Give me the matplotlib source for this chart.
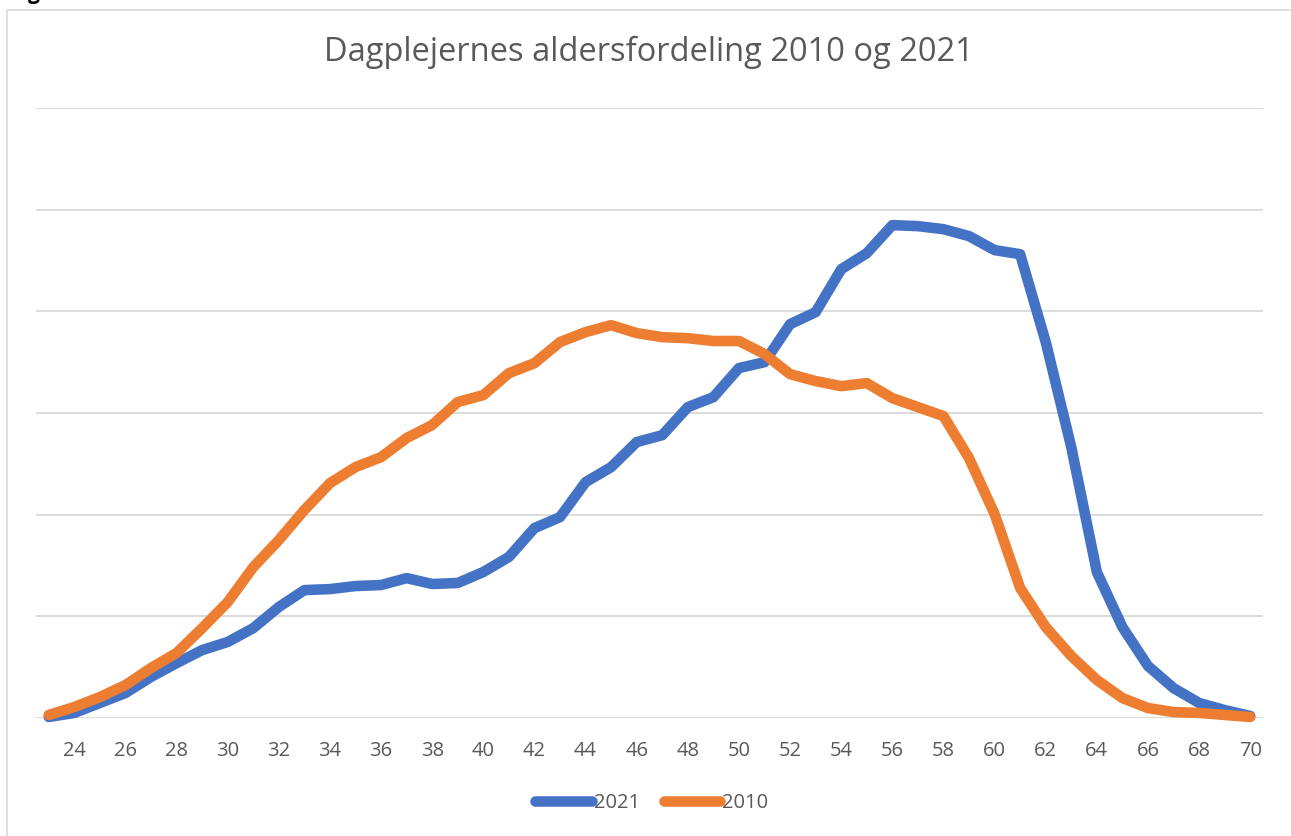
import matplotlib
matplotlib.use("Agg")
import matplotlib.pyplot as plt
from matplotlib.patches import Rectangle

# Data (gridline step = 50 units)
ages = list(range(23, 71))
v2021 = [0.5, 2.5, 7.4, 12.3, 20.2, 27.0, 33.4, 37.4, 44.2, 54.6,
         62.9, 63.4, 64.9, 65.4, 68.8, 65.9, 66.4, 71.8, 79.2, 93.4,
         98.8, 116.0, 123.4, 135.7, 139.1, 152.9, 157.8, 172.1, 175.0, 193.7,
         199.6, 220.7, 228.6, 242.4, 241.9, 240.4, 237.0, 230.1, 228.1, 184.9,
         133.2, 71.8, 44.7, 25.6, 14.7, 7.4, 3.9, 1.0]
v2010 = [1.5, 5.4, 10.3, 16.2, 24.6, 32.0, 44.2, 57.0, 74.2, 87.5,
         102.3, 115.5, 123.4, 128.3, 137.7, 144.1, 155.4, 158.8, 169.6, 174.5,
         184.9, 189.8, 193.2, 189.3, 187.3, 186.8, 185.4, 185.4, 179.0, 169.1,
         165.7, 163.2, 164.7, 157.3, 152.9, 148.5, 127.8, 100.3, 63.9, 44.7,
         30.5, 18.7, 9.8, 4.9, 2.9, 2.5, 1.5, 0.5]
xticks = list(range(24, 71, 2))
yticks = [0, 50, 100, 150, 200, 250, 300]
title = "Dagplejernes aldersfordeling 2010 og 2021"
labels = ["2021", "2010"]
colors = ["#4472C4", "#ED7D31"]

plt.rcParams['font.family'] = ['Open Sans', 'DejaVu Sans']

W, H = 1291, 836
fig = plt.figure(figsize=(W / 100, H / 100), dpi=100)

# outer chart frame
fig.patches.append(Rectangle((7 / W, -0.01), 1.1, (H - 10) / H + 0.01,
                             transform=fig.transFigure, fill=False,
                             edgecolor="#D9D9D9", linewidth=1.2))
# cut-off caption fragment above the frame (cut off in the reference too)
fig.text(28 / W, (H + 1) / H, "g", fontsize=15, fontweight="bold",
         color="black", va="baseline", ha="left")

ax = fig.add_axes([36 / W, 1 - 718 / H, (1263 - 36) / W, (718 - 108) / H])
ax.set_xlim(22.5, 70.5)
ax.set_ylim(0, 300)
ax.set_yticks(yticks)
ax.yaxis.grid(True, color="#D9D9D9", linewidth=1.3)
ax.set_axisbelow(True)
for s in ax.spines.values():
    s.set_visible(False)
ax.tick_params(axis="y", left=False, labelleft=False)
ax.tick_params(axis="x", bottom=False, labelsize=14.5, labelcolor="#595959", pad=13)
ax.set_xticks(xticks)
ax.set_xticklabels([str(t) for t in xticks])

for vals, lab, c in [(v2021, labels[0], colors[0]), (v2010, labels[1], colors[1])]:
    ax.plot(ages, vals, color=c, linewidth=7.6, label=lab,
            solid_capstyle="round", solid_joinstyle="round", clip_on=False)

fig.text(649 / W, 1 - 52 / H, title, ha="center", va="center",
         fontsize=23.5, color="#595959")

leg = fig.legend(loc="center", bbox_to_anchor=(652 / W, 1 - 803 / H), ncol=2,
                 frameon=False, fontsize=14.5, handlelength=2.8,
                 handletextpad=0.1, columnspacing=1.2, labelcolor="#595959")

fig.savefig("out.png", dpi=100)
